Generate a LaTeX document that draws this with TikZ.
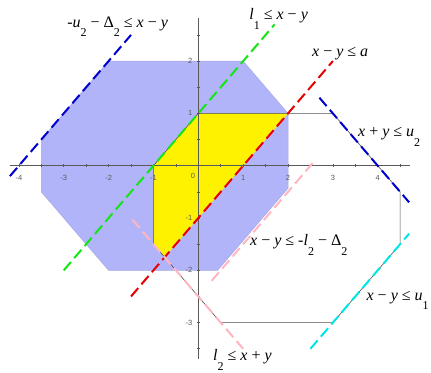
\documentclass[tikz,border=0pt]{standalone}
\usepackage{fontspec}
\setmainfont{Liberation Serif}
\newfontfamily\tickfont{Liberation Sans}
\definecolor{octfill}{RGB}{178,180,250}
\definecolor{octedge}{RGB}{165,168,225}
\definecolor{octline}{RGB}{80,80,80}
\definecolor{axisc}{RGB}{90,90,90}
\definecolor{dblue}{RGB}{0,0,205}
\definecolor{dgreen}{RGB}{20,230,20}
\definecolor{dred}{RGB}{230,0,0}
\definecolor{dpink}{RGB}{255,182,193}
\definecolor{dcyan}{RGB}{0,230,230}
\newcommand\lsub[1]{\raisebox{-0.6em}{\fontsize{12}{12}\selectfont #1}}
\newcommand\vi[1]{\textit{#1}}
\begin{document}
\begin{tikzpicture}[x=44.85pt,y=52.3pt,
  lbl/.style={font=\fontsize{16}{19}\selectfont, inner sep=0pt, anchor=base west},
  dashln/.style={line width=2pt, dash pattern=on 11pt off 5pt},
  axisln/.style={draw=axisc, line width=0.6pt},
  tickl/.style={font=\tickfont\fontsize{7.5}{8}\selectfont, text=axisc, inner sep=0pt}]
\useasboundingbox (-4.421,-3.945) rectangle (5.188,3.168);
% blue octagon
\filldraw[fill=octfill, draw=octedge, line width=0.5pt]
  (-2,2) -- (1,2) -- (2,1) -- (2,-0.43) -- (0.43,-2) -- (-2,-2) -- (-3.5,-0.5) -- (-3.5,0.5) -- cycle;
% yellow region
\fill[yellow] (-1,0) -- (0,1) -- (2,1) -- (-0.75,-1.75) -- (-1,-1.5) -- cycle;
% gray octagon
\draw[octline, line width=0.6pt]
  (0,1) -- (3,1) -- (4.5,-0.5) -- (4.5,-1.5) -- (3,-3) -- (0.5,-3) -- (-1,-1.5) -- (-1,0) -- cycle;
% axes
\draw[axisln] (-4.2,0) -- (4.72,0);
\draw[axisln] (0,-3.7) -- (0,2.82);
\foreach \k in {-4,-3.5,...,4.5} \draw[axisln] (\k,0) ++(0,-1.5pt) -- ++(0,3pt);
\foreach \k in {-3.5,-3,...,2.5} \draw[axisln] (0,\k) ++(-1.5pt,0) -- ++(3pt,0);
\foreach \k in {-4,-3,-2,-1,1,2,3,4} \node[tickl] (tx\k) at (\k,-0.235) {\k};
\node[tickl] (t0) at (-0.118,-0.197) {0};
\foreach \k in {-3,-2,-1,1,2} \node[tickl, anchor=east] (ty\k) at (-0.13,\k) {\k};
% dashed lines
\draw[dashln, dblue] (-4.2,-0.2) -- (-1.5,2.5);
\draw[dashln, dgreen] (-3,-2) -- (1.7,2.7);
\draw[dashln, dred] (-1.5,-2.5) -- (3,2);
\draw[dashln, dblue] (2.7,1.3) -- (4.7,-0.7);
\draw[dashln, dcyan] (2.5,-3.5) -- (4.7,-1.3);
\draw[dashln, dpink] (-1.47,-1.03) -- (1.0,-3.5);
\draw[dashln, dpink] (0.3,-2.2) -- (2.55,0.05);
% labels
\node[lbl] (lab1) at (-2.925,2.65) {-\vi{u}\lsub{2} − Δ\lsub{2} ≤ \vi{x} − \vi{y}};
\node[lbl] (lab2) at (1.135,2.786) {\vi{l}\lsub{1} ≤ \vi{x} − \vi{y}};
\node[lbl] (lab3) at (2.535,2.097) {\vi{x} − \vi{y} ≤ \vi{a}};
\node[lbl] (lab4) at (3.56,0.549) {\vi{x} + \vi{y} ≤ \vi{u}\lsub{2}};
\node[lbl] (lab5) at (1.153,-1.535) {\vi{x} − \vi{y} ≤ -\vi{l}\lsub{2} − Δ\lsub{2}};
\node[lbl, anchor=base east] (lab6) at (5.14,-2.568) {\vi{x} − \vi{y} ≤ \vi{u}\lsub{1}};
\node[lbl] (lab7) at (0.328,-3.73) {\vi{l}\lsub{2} ≤ \vi{x} + \vi{y}};
\end{tikzpicture}
\end{document}
